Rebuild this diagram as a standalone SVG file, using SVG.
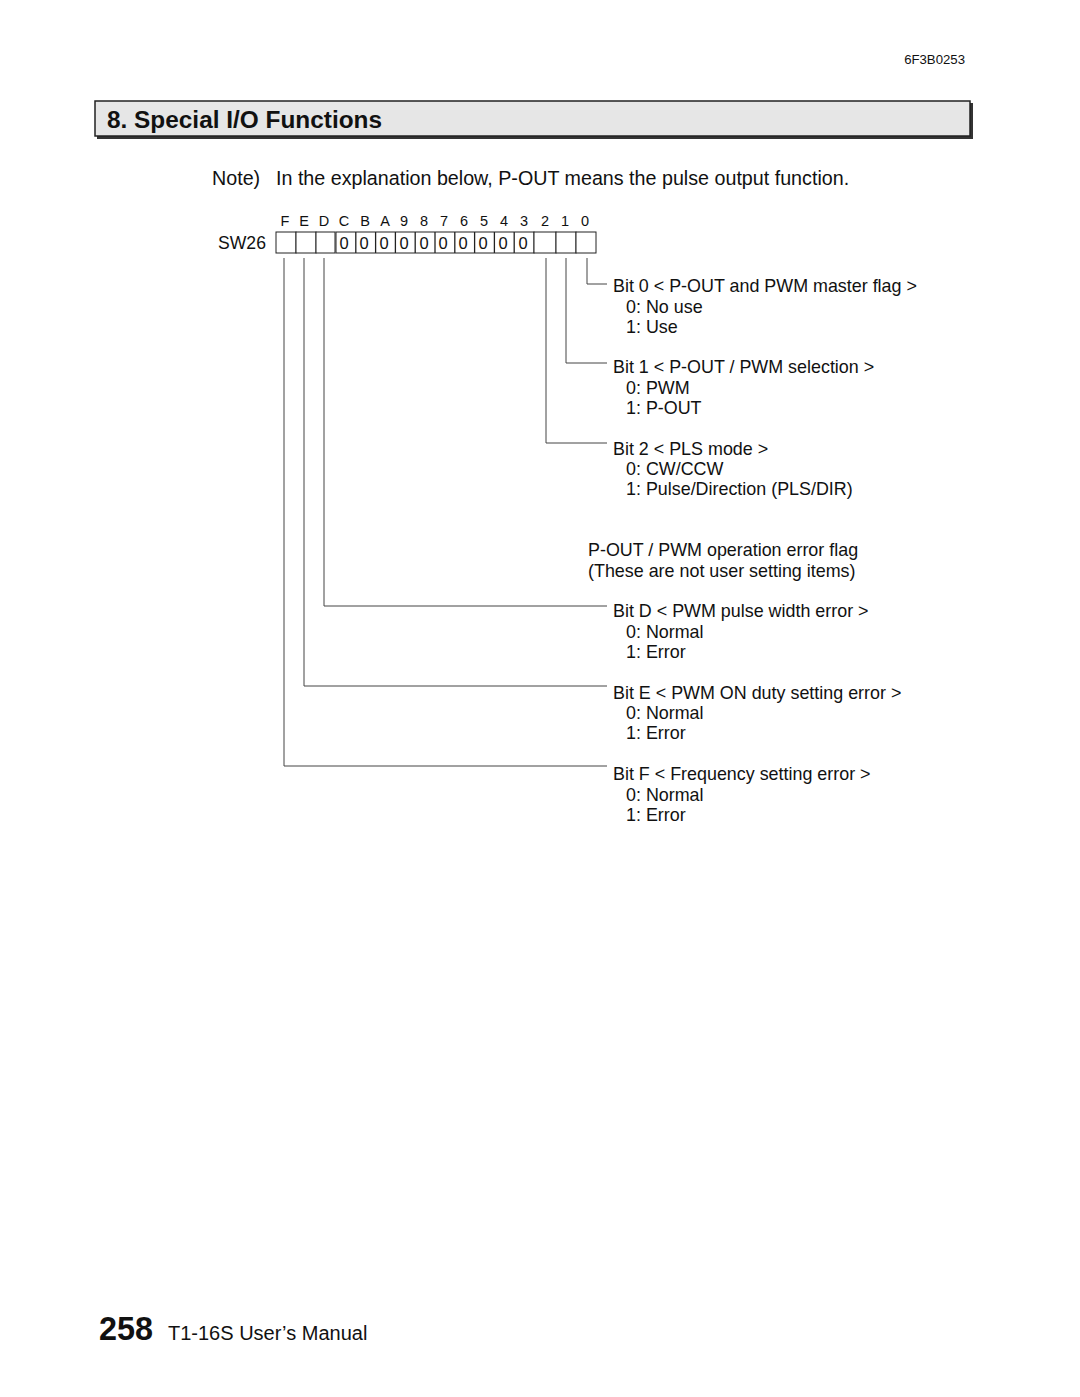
<svg xmlns="http://www.w3.org/2000/svg" width="1080" height="1397" viewBox="0 0 1080 1397">
<style>
text{font-family:"Liberation Sans",Arial,sans-serif;fill:#111}
.t{font-size:17.9px}
.hd{font-size:14.5px;text-anchor:middle}
.cell{fill:#fff;stroke:#222;stroke-width:1}
.z{font-size:16.5px;text-anchor:middle}
.conn{fill:none;stroke:#444;stroke-width:1}
</style>
<rect x="0" y="0" width="1080" height="1397" fill="#fff"/>
<text x="965" y="64" font-size="13.2" text-anchor="end">6F3B0253</text>
<g id="header">
<rect x="97" y="103" width="876" height="36" fill="#333"/>
<rect x="95" y="101" width="875" height="35" fill="#e6e6e6" stroke="#222" stroke-width="1.5"/>
<text x="107" y="128" font-size="23" font-weight="bold" textLength="275" lengthAdjust="spacingAndGlyphs">8. Special I/O Functions</text>
</g>
<text x="212" y="185" font-size="19.7">Note)</text>
<text x="276" y="185" font-size="19.7">In the explanation below, P-OUT means the pulse output function.</text>
<g id="register">
<g class="hd">
<text x="285" y="226">F</text><text x="304" y="226">E</text><text x="324" y="226">D</text><text x="344" y="226">C</text><text x="365" y="226">B</text><text x="385" y="226">A</text><text x="404" y="226">9</text><text x="424" y="226">8</text><text x="444" y="226">7</text><text x="464" y="226">6</text><text x="484" y="226">5</text><text x="504" y="226">4</text><text x="524" y="226">3</text><text x="545" y="226">2</text><text x="565" y="226">1</text><text x="585" y="226">0</text>
</g>
<text x="218" y="249" font-size="17.6">SW26</text>
<rect class="cell" x="276" y="232" width="20" height="21"/>
<rect class="cell" x="296" y="232" width="20" height="21"/>
<rect class="cell" x="316" y="232" width="19" height="21"/>
<rect class="cell" x="336" y="232" width="198" height="21" stroke-width="1.3"/>
<g stroke="#222" stroke-width="1.3">
<line x1="355.8" y1="232" x2="355.8" y2="253"/><line x1="375.6" y1="232" x2="375.6" y2="253"/><line x1="395.4" y1="232" x2="395.4" y2="253"/><line x1="415.2" y1="232" x2="415.2" y2="253"/><line x1="435" y1="232" x2="435" y2="253"/><line x1="454.8" y1="232" x2="454.8" y2="253"/><line x1="474.6" y1="232" x2="474.6" y2="253"/><line x1="494.4" y1="232" x2="494.4" y2="253"/><line x1="514.2" y1="232" x2="514.2" y2="253"/>
</g>
<g class="z">
<text x="344" y="248.5">0</text><text x="364" y="248.5">0</text><text x="384" y="248.5">0</text><text x="404" y="248.5">0</text><text x="424" y="248.5">0</text><text x="443" y="248.5">0</text><text x="463" y="248.5">0</text><text x="483" y="248.5">0</text><text x="503" y="248.5">0</text><text x="523" y="248.5">0</text>
</g>
<rect class="cell" x="534" y="232" width="22" height="21"/>
<rect class="cell" x="556" y="232" width="20" height="21"/>
<rect class="cell" x="576" y="232" width="20" height="21"/>
</g>
<g id="connectors" class="conn">
<polyline points="587,258 587,284 607,284"/>
<polyline points="566,258 566,363 607,363"/>
<polyline points="546,258 546,443 607,443"/>
<polyline points="324,258 324,606 607,606"/>
<polyline points="304,258 304,686 607,686"/>
<polyline points="284,258 284,766 607,766"/>
</g>
<g id="bit0" class="t"><text x="613" y="292">Bit 0 &lt; P-OUT and PWM master flag &gt;</text><text x="626" y="313">0: No use</text><text x="626" y="333">1: Use</text></g>
<g id="bit1" class="t"><text x="613" y="373">Bit 1 &lt; P-OUT / PWM selection &gt;</text><text x="626" y="394">0: PWM</text><text x="626" y="414">1: P-OUT</text></g>
<g id="bit2" class="t"><text x="613" y="455">Bit 2 &lt; PLS mode &gt;</text><text x="626" y="475">0: CW/CCW</text><text x="626" y="495">1: Pulse/Direction (PLS/DIR)</text></g>
<g id="errflag" class="t"><text x="588" y="556">P-OUT / PWM operation error flag</text><text x="588" y="577">(These are not user setting items)</text></g>
<g id="bitD" class="t"><text x="613" y="617">Bit D &lt; PWM pulse width error &gt;</text><text x="626" y="638">0: Normal</text><text x="626" y="658">1: Error</text></g>
<g id="bitE" class="t"><text x="613" y="699">Bit E &lt; PWM ON duty setting error &gt;</text><text x="626" y="719">0: Normal</text><text x="626" y="739">1: Error</text></g>
<g id="bitF" class="t"><text x="613" y="780">Bit F &lt; Frequency setting error &gt;</text><text x="626" y="801">0: Normal</text><text x="626" y="821">1: Error</text></g>
<g id="footer">
<text x="99" y="1340" font-size="34" font-weight="bold" textLength="54" lengthAdjust="spacingAndGlyphs">258</text>
<text x="168" y="1340" font-size="20">T1-16S User’s Manual</text>
</g>
</svg>
